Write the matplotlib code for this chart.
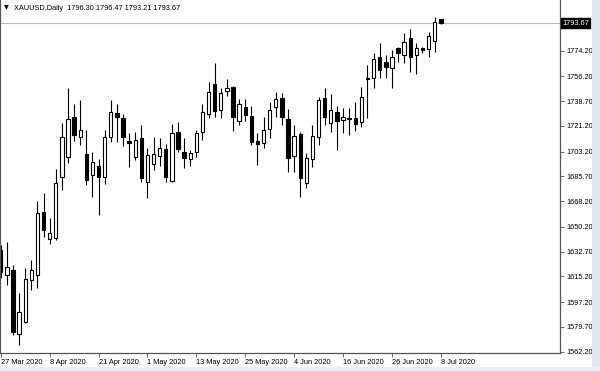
import matplotlib
matplotlib.use('Agg')
import matplotlib.pyplot as plt
import matplotlib.transforms as mtransforms
from matplotlib.patches import Rectangle

# daily bars, 27 Mar 2020 .. 8 Jul 2020
opens = [1633.8, 1616.2, 1619.7, 1574.7, 1583.3, 1612.7, 1616.0, 1660.8, 1641.3, 1642.1,
         1685.4, 1699.3, 1727.6, 1713.2, 1701.4, 1686.6, 1693.0, 1685.4, 1713.2, 1730.1,
         1726.6, 1710.6, 1699.1, 1712.5, 1681.9, 1694.2, 1700.2, 1704.9, 1682.4, 1716.7,
         1702.6, 1697.9, 1702.6, 1716.7, 1729.6, 1750.5, 1732.4, 1745.8, 1748.8, 1724.9,
         1734.8, 1728.4, 1710.6, 1708.9, 1718.8, 1734.8, 1741.1, 1725.9, 1700.2, 1715.3,
         1680.8, 1697.7, 1713.6, 1740.7, 1723.1, 1731.2, 1725.4, 1726.8, 1726.6, 1724.2,
         1754.8, 1754.8, 1769.9, 1766.4, 1761.8, 1775.9, 1771.2, 1782.9, 1771.2, 1775.9,
         1775.2, 1781.0, 1796.30]
highs = [1637.3, 1639.7, 1623.3, 1603.5, 1621.1, 1626.8, 1668.5, 1674.2, 1656.4, 1690.7,
         1723.1, 1747.9, 1736.7, 1739.5, 1718.3, 1703.1, 1697.7, 1718.3, 1739.5, 1736.7,
         1729.6, 1716.0, 1716.9, 1721.9, 1705.9, 1713.6, 1712.9, 1708.3, 1722.4, 1724.2,
         1712.9, 1704.2, 1718.3, 1736.5, 1751.9, 1765.3, 1748.1, 1754.0, 1749.3, 1740.2,
         1740.0, 1735.2, 1716.0, 1727.3, 1738.3, 1745.3, 1744.6, 1732.9, 1721.9, 1717.0,
         1701.9, 1721.9, 1741.4, 1747.7, 1743.7, 1735.2, 1733.6, 1734.0, 1738.3, 1748.4,
         1764.1, 1772.3, 1779.8, 1771.2, 1774.7, 1777.0, 1786.4, 1789.3, 1779.4, 1777.0,
         1787.6, 1798.1, 1796.47]
lows = [1614.1, 1609.2, 1574.0, 1566.9, 1582.4, 1605.6, 1607.1, 1642.8, 1638.1, 1640.9,
        1676.1, 1695.1, 1710.6, 1707.8, 1679.3, 1670.9, 1658.5, 1680.3, 1710.1, 1710.1,
        1707.0, 1692.1, 1697.0, 1681.5, 1670.7, 1690.2, 1693.2, 1681.5, 1681.7, 1702.6,
        1691.8, 1693.2, 1699.5, 1711.3, 1726.6, 1727.7, 1726.6, 1742.5, 1717.6, 1721.9,
        1724.9, 1708.0, 1693.7, 1705.4, 1712.5, 1727.7, 1721.9, 1689.0, 1689.0, 1671.4,
        1677.3, 1692.5, 1707.8, 1721.9, 1717.1, 1704.2, 1716.4, 1715.0, 1717.8, 1720.7,
        1726.6, 1747.7, 1754.8, 1754.8, 1747.7, 1766.4, 1765.3, 1759.4, 1757.8, 1772.8,
        1770.0, 1773.5, 1793.21]
closes = [1618.3, 1622.1, 1576.3, 1590.4, 1613.2, 1619.7, 1659.7, 1647.9, 1645.6, 1680.8,
          1713.2, 1725.9, 1714.8, 1718.3, 1683.1, 1696.0, 1685.4, 1713.6, 1730.8, 1727.3,
          1713.6, 1709.0, 1711.3, 1684.3, 1700.7, 1701.2, 1705.4, 1685.4, 1716.0, 1705.0,
          1698.4, 1701.9, 1716.0, 1730.8, 1744.9, 1731.9, 1744.6, 1747.8, 1727.3, 1736.7,
          1728.9, 1710.1, 1708.5, 1718.3, 1732.4, 1740.0, 1727.7, 1698.4, 1714.1, 1684.3,
          1698.8, 1714.1, 1739.5, 1727.7, 1732.4, 1724.9, 1727.3, 1726.3, 1722.6, 1741.8,
          1754.1, 1768.1, 1760.5, 1762.9, 1769.9, 1772.4, 1780.5, 1770.0, 1775.9, 1774.7,
          1784.5, 1794.6, 1793.67]

date_labels = ['27 Mar 2020', '8 Apr 2020', '21 Apr 2020', '1 May 2020', '13 May 2020',
               '25 May 2020', '4 Jun 2020', '16 Jun 2020', '26 Jun 2020', '8 Jul 2020']
price_ticks = [1562.20, 1579.70, 1597.20, 1615.20, 1632.70, 1650.20, 1668.20,
               1685.70, 1703.20, 1721.20, 1738.70, 1756.20, 1774.20, 1791.70]
last_price = 1793.67
header = 'XAUUSD,Daily  1796.30 1796.47 1793.21 1793.67'

plt.rcParams['font.family'] = ['Liberation Sans', 'DejaVu Sans']

fig = plt.figure(figsize=(6, 3.71), dpi=100)
ax = fig.add_axes([0, 18 / 371, 560 / 600, 353 / 371])

w = 0.55
for i in range(len(opens)):
    o, h, l, c = opens[i], highs[i], lows[i], closes[i]
    ax.vlines(i, l, h, color='black', linewidth=0.8, zorder=1)
    face = 'white' if c > o else 'black'
    ax.add_patch(Rectangle((i - w / 2, min(o, c)), w, max(abs(c - o), 0.4),
                           facecolor=face, edgecolor='black', linewidth=0.8, zorder=2))

# bid line + price box (it covers the top tick label, as in the terminal)
ax.axhline(last_price, color='#b8b8b8', linewidth=0.8, zorder=0)
trans = mtransforms.blended_transform_factory(ax.transAxes, ax.transData)
ax.text(1.004, last_price, '%.2f' % last_price, transform=trans, color='white',
        fontsize=5.3, va='center', ha='left', zorder=10, clip_on=False,
        bbox=dict(facecolor='black', edgecolor='black', pad=1.0))

ax.set_xlim(-0.13, 91.5)
ax.set_ylim(1561.3, 1809.9)

ax.yaxis.tick_right()
ax.set_yticks(price_ticks)
ylabels = ['%.2f' % p for p in price_ticks]
ylabels[-1] = ''
ax.set_yticklabels(ylabels)
ax.tick_params(axis='y', direction='out', length=3, width=0.6, pad=1.5,
               labelsize=5.3, color='#555555')
ax.set_xticks(range(0, 73, 8))
ax.set_xticklabels(date_labels, ha='left')
ax.tick_params(axis='x', direction='out', length=3, width=0.6, pad=1.5,
               labelsize=5.3, color='#555555')

ax.spines['top'].set_visible(False)
for s in ['left', 'bottom', 'right']:
    ax.spines[s].set_color('#555555')
    ax.spines[s].set_linewidth(0.9)

fig.text(4 / 600, 1 - 8 / 371, '\u25bc', family='DejaVu Sans', fontsize=4.5,
         va='center', ha='left')
fig.text(14 / 600, 1 - 8 / 371, header, fontsize=5.3, va='center', ha='left')

# light window frame at right / bottom
fig.patches.append(Rectangle((592 / 600, 0), 8 / 600, 1, transform=fig.transFigure,
                             facecolor='#e4e9ef', edgecolor='none', zorder=0))
fig.patches.append(Rectangle((0, 0), 1, 4 / 371, transform=fig.transFigure,
                             facecolor='#eceff3', edgecolor='none', zorder=0))

fig.savefig('out.png', dpi=100)
